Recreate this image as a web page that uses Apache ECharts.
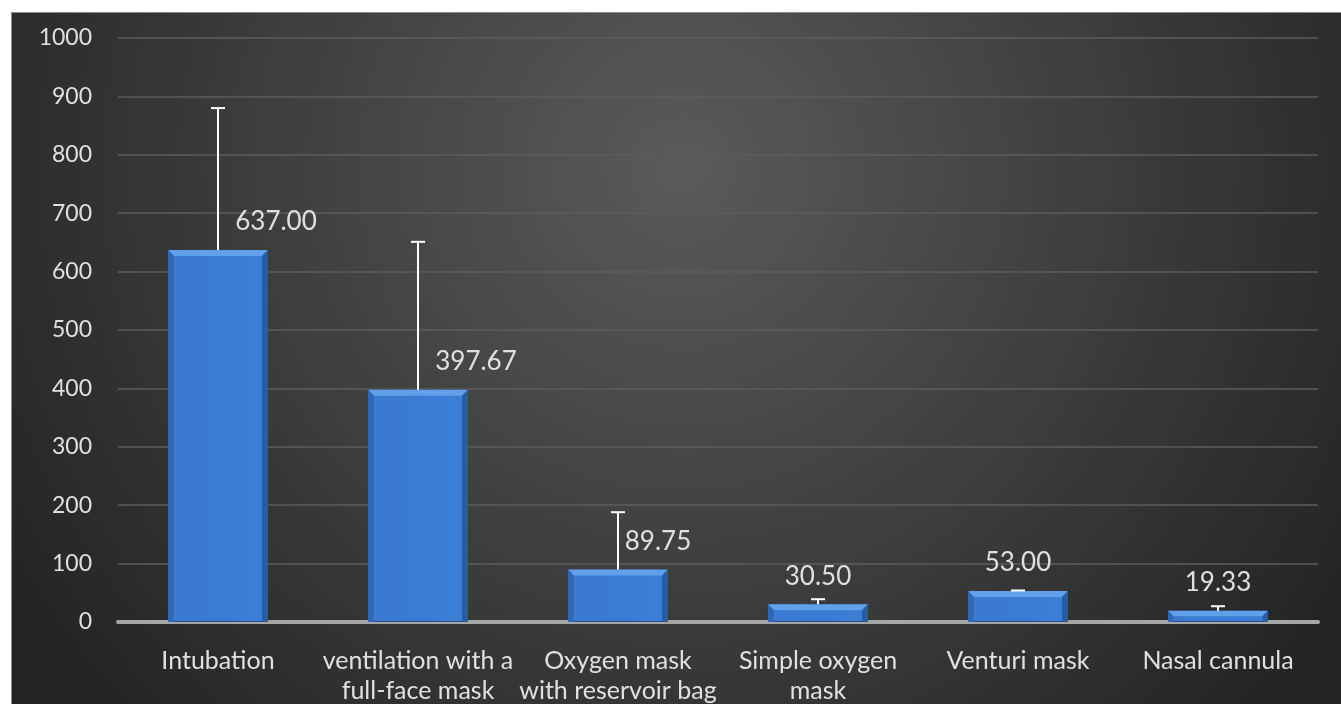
<!DOCTYPE html>
<html>
<head>
<meta charset="utf-8">
<script src="https://cdn.jsdelivr.net/npm/echarts@6/dist/echarts.min.js"></script>
<style>
html,body{margin:0;padding:0;background:#ffffff;overflow:hidden;width:1341px;height:704px;}
#c{position:absolute;left:11px;top:12px;width:1340px;height:700px;border-left:1px solid #8a8a8a;border-top:1px solid #8a8a8a;}
</style>
</head>
<body>
<div id="c"></div>
<script>
const categories = ['Intubation', 'ventilation with a\nfull-face mask', 'Oxygen mask\nwith reservoir bag', 'Simple oxygen\nmask', 'Venturi mask', 'Nasal cannula'];
const means = [637.00, 397.67, 89.75, 30.50, 53.00, 19.33];
const errorTops = [880, 651, 188, 39, 54, 27];
const yTicks = [0, 100, 200, 300, 400, 500, 600, 700, 800, 900, 1000];

const labelShiftX = [58, 58, 40, 0, 0, 0];
const FONT = 'Lato, "Open Sans", sans-serif';
const TXT = '#e0e0e0';

const chart = echarts.init(document.getElementById('c'));

const barData = means.map((v, i) => ({
  value: v,
  label: { offset: [labelShiftX[i], 0] }
}));

const option = {
  animation: false,
  backgroundColor: {
    type: 'radial', x: 0.5, y: 0.22, r: 1.15,
    colorStops: [
      { offset: 0, color: '#5a5a5a' },
      { offset: 0.55, color: '#3c3c3c' },
      { offset: 1, color: '#232323' }
    ]
  },
  grid: { left: 106, right: 34, top: 25, bottom: 91 },
  xAxis: {
    type: 'category',
    data: categories,
    axisTick: { show: false },
    axisLine: { show: true, lineStyle: { color: '#a6a6a6', width: 4 } },
    axisLabel: {
      color: TXT, fontFamily: FONT, fontSize: 25, lineHeight: 30, margin: 24, interval: 0
    }
  },
  yAxis: {
    type: 'value',
    min: yTicks[0], max: yTicks[yTicks.length - 1], interval: yTicks[1] - yTicks[0],
    axisLine: { show: false },
    axisTick: { show: false },
    splitLine: { lineStyle: { color: '#5c5c5c', width: 1.5 } },
    axisLabel: { color: TXT, fontFamily: FONT, fontSize: 23, margin: 26, formatter: v => String(v) }
  },
  series: [
    {
      type: 'bar',
      data: barData,
      barWidth: '50%',
      z: 2,
      itemStyle: {
        color: {
          type: 'linear', x: 0, y: 0, x2: 1, y2: 0,
          colorStops: [
            { offset: 0, color: '#2a5ea8' },
            { offset: 0.06, color: '#3a7ad0' },
            { offset: 0.94, color: '#3b7ed6' },
            { offset: 1, color: '#2a5aa0' }
          ]
        },
        borderColor: '#244f8e', borderWidth: 1
      },
      label: {
        show: true, position: 'top', distance: 15,
        color: TXT, fontFamily: FONT, fontSize: 26,
        formatter: p => p.value.toFixed(2)
      }
    },
    {
      type: 'custom',
      z: 3,
      silent: true,
      data: means.map((v, i) => [i, v]),
      renderItem: function (params, api) {
        const i = api.value(0);
        const top = api.coord([i, api.value(1)]);
        const base = api.coord([i, 0]);
        const w = api.size([1, 0])[0] * 0.5;
        const x0 = top[0] - w / 2, x1 = top[0] + w / 2;
        const h = base[1] - top[1];
        const b = Math.min(6, h / 2);
        return {
          type: 'group',
          children: [
            { type: 'polygon', shape: { points: [[x0, top[1]], [x1, top[1]], [x1 - b, top[1] + b], [x0 + b, top[1] + b]] },
              style: { fill: '#62a0ea' } },
            { type: 'polygon', shape: { points: [[x0, top[1]], [x0 + b, top[1] + b], [x0 + b, base[1]], [x0, base[1]]] },
              style: { fill: '#2f68b6' } },
            { type: 'polygon', shape: { points: [[x1, top[1]], [x1 - b, top[1] + b], [x1 - b, base[1]], [x1, base[1]]] },
              style: { fill: '#2a5ba3' } }
          ]
        };
      }
    },
    {
      type: 'custom',
      z: 4,
      silent: true,
      data: means.map((v, i) => [i, v, errorTops[i]]),
      renderItem: function (params, api) {
        const i = api.value(0);
        const p0 = api.coord([i, api.value(1)]);
        const p1 = api.coord([i, api.value(2)]);
        const st = { stroke: '#ffffff', lineWidth: 2 };
        return {
          type: 'group',
          children: [
            { type: 'line', shape: { x1: p0[0], y1: p0[1], x2: p1[0], y2: p1[1] }, style: st },
            { type: 'line', shape: { x1: p1[0] - 7, y1: p1[1], x2: p1[0] + 7, y2: p1[1] }, style: st }
          ]
        };
      }
    }
  ]
};
chart.setOption(option);
</script>
</body>
</html>
